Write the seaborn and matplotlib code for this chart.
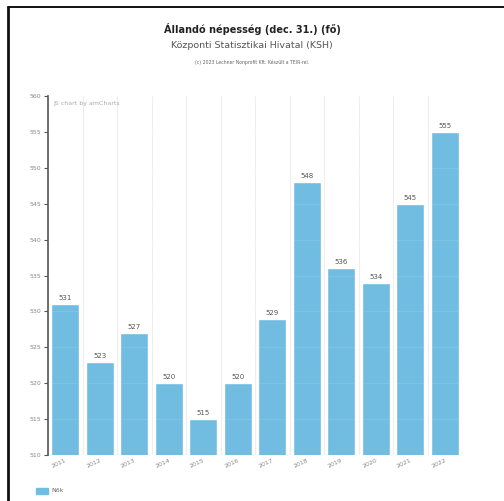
import matplotlib
matplotlib.use("Agg")
import matplotlib.pyplot as plt
import seaborn as sns
import pandas as pd
from matplotlib.lines import Line2D

years = ["2011", "2012", "2013", "2014", "2015", "2016", "2017", "2018", "2019", "2020", "2021", "2022"]
values = [531, 523, 527, 520, 515, 520, 529, 548, 536, 534, 545, 555]
series_name = "Nők"
title = "Állandó népesség (dec. 31.) (fő)"
subtitle = "Központi Statisztikai Hivatal (KSH)"
credit = "(c) 2023 Lechner Nonprofit Kft. Készült a TEIR-rel."
yticks = [510, 515, 520, 525, 530, 535, 540, 545, 550, 555, 560]

sns.set_theme(style="white")
plt.rcParams['font.family'] = ['DejaVu Sans']

df = pd.DataFrame({"year": years, "value": values})

fig = plt.figure(figsize=(5.04, 5.01), dpi=100)
ax = fig.add_axes([48/504, 1-455/501, (462-48)/504, (455-96)/501])

bar_color = "#70BDE1"
sns.barplot(data=df, x="year", y="value", color=bar_color, width=0.8,
            ax=ax, saturation=1, zorder=2)

ax.set_ylim(510, 560)
ax.set_xlim(-0.5, len(years) - 0.5)
ax.set_yticks(yticks)
ax.set_yticklabels([str(t) for t in yticks], fontsize=4.5, color="#888888")
ax.set_xticks(range(len(years)))
ax.set_xticklabels(years, fontsize=4.5, color="#888888", rotation=25,
                   ha="right", rotation_mode="anchor")
ax.set_xlabel("")
ax.set_ylabel("")

# grid lines
for i in range(len(years) + 1):
    ax.axvline(i - 0.5, color="#eeeeee", lw=0.8, zorder=1)
for t in yticks[1:]:
    ax.axhline(t, color="#ffffff", lw=0.6, alpha=0.12, zorder=3)

for s in ["top", "right", "bottom"]:
    ax.spines[s].set_visible(False)
ax.spines["left"].set_color("#555555")
ax.spines["left"].set_linewidth(1.2)
ax.tick_params(axis="y", length=3, width=0.8, color="#555555", pad=2, left=True)
ax.tick_params(axis="x", length=0, pad=2)

# value labels
for i, v in enumerate(values):
    ax.text(i, v + 0.4, str(v), ha="center", va="bottom", fontsize=5, color="#555555")

ax.text(0.012, 0.985, "JS chart by amCharts", transform=ax.transAxes,
        fontsize=4.5, color="#aaaaaa", va="top", ha="left")

# titles
fig.text(0.5, 1-29/501, title, ha="center", va="center", fontsize=7,
         fontweight="bold", color="#222222")
fig.text(0.5, 1-46/501, subtitle, ha="center", va="center", fontsize=6.8,
         color="#555555")
fig.text(0.5, 1-62/501, credit, ha="center", va="center", fontsize=3.3,
         color="#666666")

# legend
fig.patches.append(plt.Rectangle((36/504, 1-494/501), 12/504, 6/501,
                                 transform=fig.transFigure, color=bar_color))
fig.text(51/504, 1-491/501, series_name, ha="left", va="center",
         fontsize=4.5, color="#666666")

# frame lines
fig.add_artist(Line2D([8/504, 1.0], [1-7/501, 1-7/501], color="#111111", lw=1.4,
                      transform=fig.transFigure))
fig.add_artist(Line2D([8/504, 8/504], [0, 1-7/501], color="#111111", lw=2.0,
                      transform=fig.transFigure))

fig.savefig("out.png", dpi=100)
